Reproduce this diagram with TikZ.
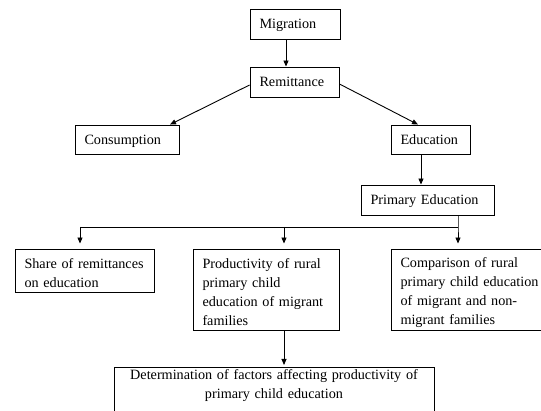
\documentclass[tikz,border=0pt]{standalone}
\usepackage{fontspec}
\setmainfont{Liberation Serif}
\usetikzlibrary{arrows.meta}
\newcommand\myboxfont{\fontsize{14.2}{19}\selectfont\hyphenpenalty=10000\relax}
\newcommand\topfix{\rule{0pt}{15.5pt}}
\tikzset{
  box/.style={draw=black, line width=0.9pt, rectangle, inner xsep=9.5pt, inner ysep=1pt,
    align=left, font=\myboxfont},
  cbox/.style={box, text depth=0pt},
  arr/.style={line width=0.9pt, -{Triangle[length=6pt,width=5pt]}},
  ln/.style={line width=0.9pt}
}
\begin{document}
\begin{tikzpicture}[x=1pt,y=-1pt]
\clip (0,0) rectangle (541,411);
\fill[white] (0,0) rectangle (541,411);
\node[cbox, text width=71pt, minimum height=30pt] (mig) at (295,24) {Migration};
\node[cbox, text width=70pt, minimum height=30pt] (rem) at (294.5,82) {Remittance};
\node[cbox, text width=85pt, minimum height=29pt] (con) at (127,139.5) {Consumption};
\node[cbox, text width=60pt, minimum height=29pt] (edu) at (430.5,139.5) {Education};
\node[cbox, text width=114pt, minimum height=30pt] (prim) at (427.5,200) {Primary Education};
\node[box, text width=120pt, minimum height=43pt] (share) at (84.5,270.5) {\topfix Share of remittances\\on education};
\node[box, text width=127pt, minimum height=81pt] (prod) at (266,289.5) {\topfix Productivity of rural\\primary child\\education of migrant\\families};
\node[box, text width=140pt, minimum height=81pt] (comp) at (470.5,289.5) {\topfix Comparison of rural\\primary child education\\of migrant and non-\\migrant families};
\node[box, align=center, text width=301pt, inner ysep=2pt, anchor=north] (det) at (274,367) {Determination of factors affecting productivity of\\primary child education\\\mbox{}};
\coordinate (xa) at (286,0);
\coordinate (xc) at (170,0);
\coordinate (xe) at (418,0);
\coordinate (xf) at (421,0);
\coordinate (xb) at (458,0);
\coordinate (xs) at (80,0);
\coordinate (xm) at (284,0);
\coordinate (hl) at (0,227);
\draw[arr] (mig.south -| xa) -- (rem.north -| xa);
\draw[arr] ([yshift=-3pt]rem.west) -- (con.north -| xc);
\draw[arr] ([yshift=-2pt]rem.east) -- (edu.north -| xe);
\draw[arr] (edu.south -| xf) -- (prim.north -| xf);
\draw[arr, shorten >=5pt] (prim.south -| xb) -- (hl -| xb) -- (comp.north -| xb);
\draw[ln] (hl -| xb) -- (hl -| xs);
\draw[arr, shorten >=5pt] (hl -| xs) -- (share.north -| xs);
\draw[arr, shorten >=5pt] (hl -| xm) -- (prod.north -| xm);
\draw[arr, shorten >=2pt] (prod.south -| xm) -- (det.north -| xm);
\end{tikzpicture}
\end{document}
